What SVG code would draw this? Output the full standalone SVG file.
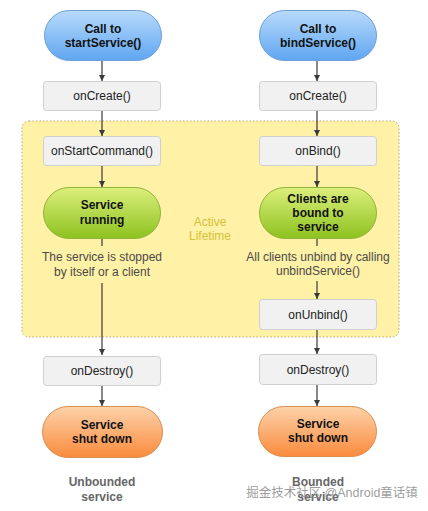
<svg xmlns="http://www.w3.org/2000/svg" width="428" height="511" viewBox="0 0 428 511">
<defs>
<linearGradient id="gBlue" x1="0" y1="0" x2="0" y2="1"><stop offset="0" stop-color="#b9dafb"/><stop offset="1" stop-color="#5fa6f1"/></linearGradient>
<linearGradient id="gGreen" x1="0" y1="0" x2="0" y2="1"><stop offset="0" stop-color="#dcef7c"/><stop offset="1" stop-color="#8dc21f"/></linearGradient>
<linearGradient id="gOrange" x1="0" y1="0" x2="0" y2="1"><stop offset="0" stop-color="#fdd2aa"/><stop offset="1" stop-color="#fa8b3d"/></linearGradient>
<marker id="ah" viewBox="0 0 10 10" refX="10" refY="5" markerWidth="6" markerHeight="7" markerUnits="userSpaceOnUse" orient="auto"><path d="M0,0 L10,5 L0,10 z" fill="#3a3a3a"/></marker>
</defs>
<style>
text{font-family:"Liberation Sans",Arial,sans-serif;font-size:12px;text-anchor:middle}
.b{font-weight:bold;fill:#111}
.box{fill:#f1f1f1;stroke:#cfcfcf;stroke-width:1}
.lbl{fill:#222}
.desc{fill:#4a4a4a}
.blue{fill:url(#gBlue);stroke:#6d9fd6}
.green{fill:url(#gGreen);stroke:#93b43a}
.orange{fill:url(#gOrange);stroke:#d98e52}
.cap{font-weight:bold;fill:#666}
.con line{stroke:#3a3a3a;stroke-width:1.2;marker-end:url(#ah)}
</style>
<rect id="active" x="22" y="121" width="377" height="216" rx="7" fill="#fff1a6" stroke="#b9a56e" stroke-width="1" stroke-dasharray="1.5,2"/>
<g id="activeLabel"><text x="210" y="226" fill="#d3c23a">Active</text><text x="210" y="240" fill="#d3c23a">Lifetime</text></g>

<g class="con">
<line x1="102" y1="61" x2="102" y2="81"/>
<line x1="102" y1="111" x2="102" y2="136"/>
<line x1="102" y1="166" x2="102" y2="187"/>
<line x1="102" y1="239" x2="102" y2="246" style="marker-end:none"/>
<line x1="102" y1="283" x2="102" y2="355"/>
<line x1="102" y1="386" x2="102" y2="406"/>
<line x1="317" y1="61" x2="317" y2="81"/>
<line x1="317" y1="111" x2="317" y2="136"/>
<line x1="317" y1="166" x2="317" y2="187"/>
<line x1="317" y1="239" x2="317" y2="246" style="marker-end:none"/>
<line x1="317" y1="281" x2="317" y2="299"/>
<line x1="317" y1="330" x2="317" y2="354"/>
<line x1="317" y1="385" x2="317" y2="406"/>
</g>

<g id="startService"><rect class="blue" x="44.5" y="10.5" width="117" height="50" rx="25"/><text class="b" x="103" y="33">Call to</text><text class="b" x="103" y="47">startService()</text></g>
<g id="onCreateL"><rect class="box" x="43.5" y="81.5" width="117" height="29" rx="3"/><text class="lbl" x="102" y="100">onCreate()</text></g>
<g id="onStartCommand"><rect class="box" x="43.5" y="136.5" width="117" height="29" rx="3"/><text class="lbl" x="102" y="155">onStartCommand()</text></g>
<g id="serviceRunning"><rect class="green" x="43.5" y="187.5" width="117" height="51" rx="25.5"/><text class="b" x="102" y="209">Service</text><text class="b" x="102" y="224">running</text></g>
<g id="stoppedText"><text class="desc" x="102" y="261">The service is stopped</text><text class="desc" x="102" y="276">by itself or a client</text></g>
<g id="onDestroyL"><rect class="box" x="43.5" y="356.5" width="117" height="29" rx="3"/><text class="lbl" x="102" y="375">onDestroy()</text></g>
<g id="shutdownL"><rect class="orange" x="42.5" y="406.5" width="120" height="51" rx="25.5"/><text class="b" x="102" y="429">Service</text><text class="b" x="102" y="443">shut down</text></g>
<g id="unboundedCap"><text class="cap" x="102" y="486">Unbounded</text><text class="cap" x="102" y="501">service</text></g>

<g id="bindService"><rect class="blue" x="259.5" y="10.5" width="117" height="50" rx="25"/><text class="b" x="318" y="33">Call to</text><text class="b" x="318" y="47">bindService()</text></g>
<g id="onCreateR"><rect class="box" x="259.5" y="81.5" width="117" height="29" rx="3"/><text class="lbl" x="318" y="100">onCreate()</text></g>
<g id="onBind"><rect class="box" x="259.5" y="136.5" width="117" height="29" rx="3"/><text class="lbl" x="318" y="155">onBind()</text></g>
<g id="clientsBound"><rect class="green" x="259.5" y="187.5" width="117" height="51" rx="25.5"/><text class="b" x="318" y="203">Clients are</text><text class="b" x="318" y="217">bound to</text><text class="b" x="318" y="231">service</text></g>
<g id="unbindText"><text class="desc" x="318" y="261">All clients unbind by calling</text><text class="desc" x="318" y="275">unbindService()</text></g>
<g id="onUnbind"><rect class="box" x="259.5" y="299.5" width="117" height="30" rx="3"/><text class="lbl" x="318" y="319">onUnbind()</text></g>
<g id="onDestroyR"><rect class="box" x="259.5" y="354.5" width="117" height="30" rx="3"/><text class="lbl" x="318" y="374">onDestroy()</text></g>
<g id="shutdownR"><rect class="orange" x="258.5" y="406.5" width="118" height="50" rx="25"/><text class="b" x="318" y="428">Service</text><text class="b" x="318" y="442">shut down</text></g>
<g id="boundedCap"><text class="cap" x="318" y="486">Bounded</text><text class="cap" x="318" y="501">service</text></g>
<text id="watermark" x="332" y="497" style="font-family:'Liberation Sans','Noto Sans CJK SC',sans-serif;font-size:12.5px;fill:#8a8a8a;fill-opacity:0.85">掘金技术社区 @Android童话镇</text>
</svg>
